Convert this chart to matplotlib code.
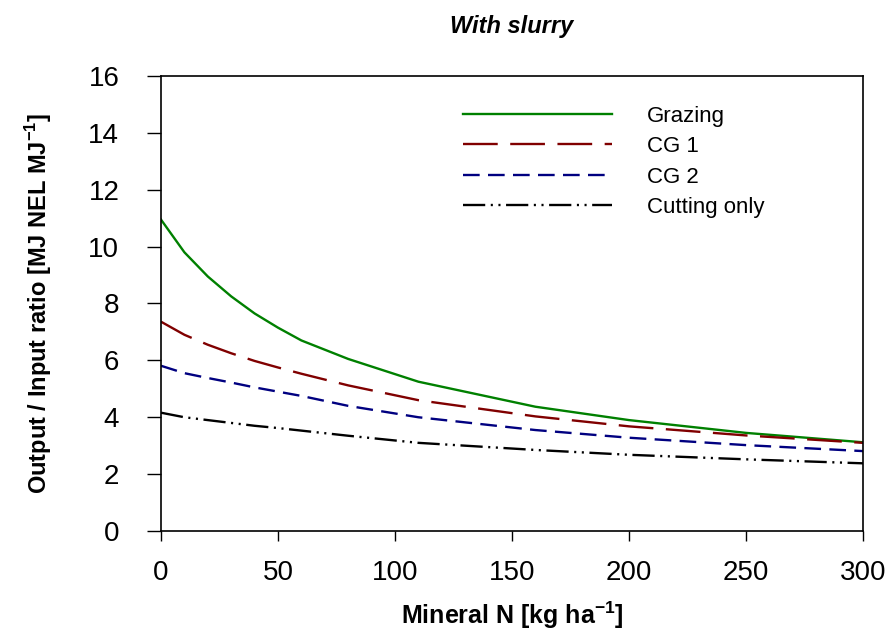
import matplotlib
matplotlib.use('Agg')
import matplotlib.pyplot as plt

plt.rcParams['font.family'] = ['Liberation Sans', 'DejaVu Sans']
plt.rcParams['mathtext.fontset'] = 'custom'
plt.rcParams['mathtext.rm'] = 'Liberation Sans'
plt.rcParams['mathtext.bf'] = 'Liberation Sans:bold'
plt.rcParams['lines.scale_dashes'] = False

# 施氮量 (kg N/ha)
mineral_n = [0, 10, 20, 30, 40, 50, 60, 80, 110, 160, 200, 250, 300]

# 產出/投入比
grazing = [10.95, 9.8, 8.95, 8.25, 7.65, 7.15, 6.7, 6.05, 5.25, 4.37, 3.9, 3.45, 3.12]
cg1 = [7.36, 6.9, 6.55, 6.25, 5.98, 5.75, 5.53, 5.12, 4.6, 4.03, 3.68, 3.36, 3.1]
cg2 = [5.81, 5.55, 5.38, 5.22, 5.05, 4.9, 4.75, 4.4, 4.0, 3.55, 3.28, 3.02, 2.81]
cutting = [4.16, 4.0, 3.9, 3.8, 3.7, 3.62, 3.53, 3.35, 3.1, 2.85, 2.68, 2.52, 2.38]

fig = plt.figure(figsize=(8.92, 6.37), dpi=100)
ax = fig.add_axes([0.1805, 0.1664, 0.787, 0.7143])

ax.plot(mineral_n, grazing, color='#008000', lw=1.7, label='Grazing')
ax.plot(mineral_n, cg1, color='#800000', lw=1.7, dashes=(25, 9), label='CG 1')
ax.plot(mineral_n, cg2, color='#000080', lw=1.7, dashes=(12, 6), label='CG 2')
ax.plot(mineral_n, cutting, color='black', lw=1.7,
        dashes=(16, 4, 1.5, 4, 1.5, 4), label='Cutting only')

ax.set_xlim(0, 300)
ax.set_ylim(0, 16)
ax.set_xticks(range(0, 301, 50))
ax.set_yticks(range(0, 17, 2))
ax.tick_params(axis='x', direction='out', length=7, width=1, labelsize=20, pad=14)
ax.tick_params(axis='y', direction='out', length=10, width=1, labelsize=20, pad=20)
for s in ax.spines.values():
    s.set_linewidth(1.2)

ax.set_title('With slurry', fontsize=17, fontweight='bold', fontstyle='italic', pad=31)

ax.set_xlabel(r'Mineral N [kg ha$^{\mathbf{-1}}$]', fontsize=18, fontweight='bold')
ax.xaxis.label.set_va('baseline')
ax.xaxis.set_label_coords(0.5, -0.204)

ax.set_ylabel(r'Output / Input ratio [MJ NEL MJ$^{\mathbf{-1}}$]', fontsize=17, fontweight='bold')
ax.yaxis.label.set_va('baseline')
ax.yaxis.set_label_coords(-0.162, 0.5)

ax.legend(loc='upper left', bbox_to_anchor=(454 / 892, 1 - 97 / 637),
          bbox_transform=fig.transFigure, frameon=False,
          fontsize=16, handlelength=6.7, handletextpad=1.6, labelspacing=0.42,
          borderaxespad=0)

plt.savefig('out.png', dpi=100)
